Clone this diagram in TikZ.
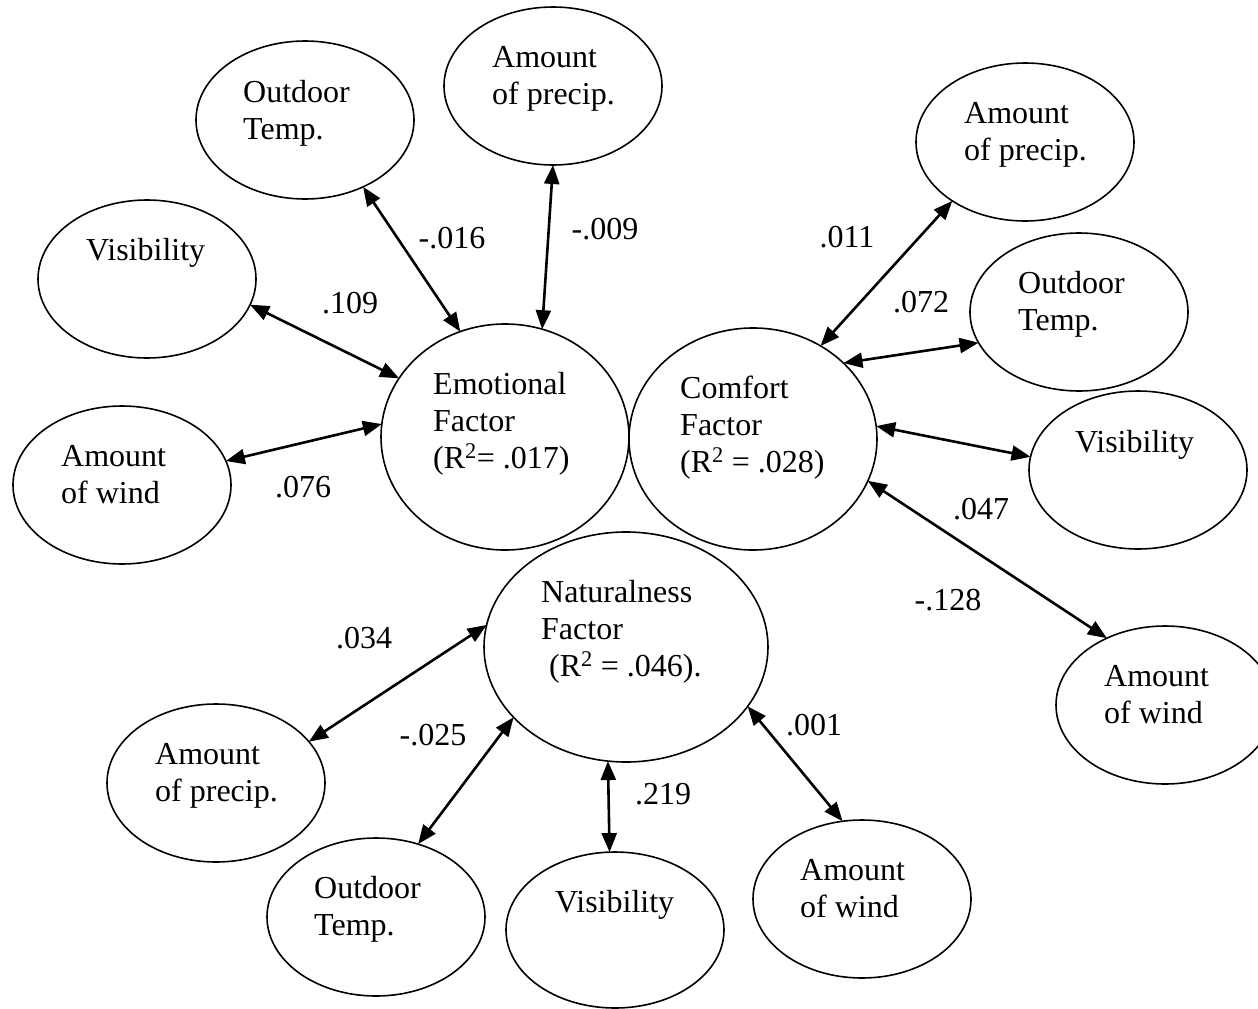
\documentclass[tikz,border=0pt]{standalone}
\usepackage{fontspec}
\setmainfont{Liberation Serif}
\usetikzlibrary{arrows.meta,shapes.geometric}
\begin{document}
\begin{tikzpicture}[x=1pt,y=-1pt,
  ell/.style={draw, ellipse, line width=1.6pt, inner sep=0pt, outer sep=0pt,
              minimum width=218pt, minimum height=158pt},
  txt/.style={anchor=base west, inner sep=0pt, font=\fontsize{32}{37}\selectfont},
  lab/.style={anchor=center, inner sep=0pt, font=\fontsize{32}{37}\selectfont},
  dbl/.style={line width=2.6pt,
              {Triangle[length=19pt,width=15pt]}-{Triangle[length=19pt,width=15pt]}}
]
\clip (0,0) rectangle (1258,1009);
% ellipses
\node[ell] (ot1) at (305,120) {};
\node[ell] (pr1) at (553,86) {};
\node[ell] (vi1) at (147,279) {};
\node[ell] (wi1) at (122,485) {};
\node[ell, minimum width=248pt, minimum height=226pt] (emo) at (505,437) {};
\node[ell, minimum width=248pt, minimum height=222pt] (com) at (753,439) {};
\node[ell] (pr2) at (1025,142) {};
\node[ell] (ot2) at (1079,312) {};
\node[ell] (vi2) at (1138,470) {};
\node[ell] (wi2) at (1165,705) {};
\node[ell, minimum width=284pt, minimum height=230pt] (nat) at (626,647) {};
\node[ell] (pr3) at (216,783) {};
\node[ell] (ot3) at (376,917) {};
\node[ell, minimum height=156pt] (vi3) at (615,930) {};
\node[ell] (wi3) at (862,899) {};
% texts
\newcommand{\tl}[1]{\begin{tabular}[t]{@{}l@{}}#1\end{tabular}}
\node[txt] (ot1t) at (243,102) {\tl{Outdoor\\Temp.}};
\node[txt] (pr1t) at (492,67) {\tl{Amount\\of precip.}};
\node[txt] (vi1t) at (86,260) {\tl{Visibility}};
\node[txt] (wi1t) at (61,466) {\tl{Amount\\of wind}};
\node[txt] (emot) at (433,394) {\tl{Emotional\\Factor\\(R\textsuperscript{2}= .017)}};
\node[txt] (comt) at (680,398) {\tl{Comfort\\Factor\\(R\textsuperscript{2} = .028)}};
\node[txt] (pr2t) at (964,123) {\tl{Amount\\of precip.}};
\node[txt] (ot2t) at (1018,293) {\tl{Outdoor\\Temp.}};
\node[txt] (vi2t) at (1075,452) {\tl{Visibility}};
\node[txt] (wi2t) at (1104,686) {\tl{Amount\\of wind}};
\node[txt] (natt) at (541,602) {\tl{Naturalness\\Factor\\\ (R\textsuperscript{2} = .046).}};
\node[txt] (pr3t) at (155,764) {\tl{Amount\\of precip.}};
\node[txt] (ot3t) at (314,898) {\tl{Outdoor\\Temp.}};
\node[txt] (vi3t) at (555,912) {\tl{Visibility}};
\node[txt] (wi3t) at (800,880) {\tl{Amount\\of wind}};
% connectors
\draw[dbl] (ot1.-49.1) -- (emo.113.8);
\draw[dbl] (pr1.-90) -- (emo.71.3);
\draw[dbl] (vi1.-14.3) -- (emo.151.1);
\draw[dbl] (wi1.13.9) -- (emo.174.9);
\draw[dbl] (pr2.219.4) -- (com.54.9);
\draw[dbl] (ot2.197.8) -- (com.40.2);
\draw[dbl] (vi2.173.2) -- (com.6.4);
\draw[dbl] (wi2.131.4) -- (com.-20.8);
\draw[dbl] (pr3.24.5) -- (nat.171.9);
\draw[dbl] (ot3.60.3) -- (nat.212.2);
\draw[dbl] (vi3.94.4) -- (nat.261.9);
\draw[dbl] (wi3.104.2) -- (nat.-26.4);
% labels
\node[lab] (l1) at (452,238) {-.016};
\node[lab] (l2) at (605,229) {-.009};
\node[lab] (l3) at (350,303) {.109};
\node[lab] (l4) at (303,487) {.076};
\node[lab] (l5) at (847,237) {.011};
\node[lab] (l6) at (921,302) {.072};
\node[lab] (l7) at (981,509) {.047};
\node[lab] (l8) at (948,600) {-.128};
\node[lab] (l9) at (364,638) {.034};
\node[lab] (l10) at (433,735) {-.025};
\node[lab] (l11) at (663,794) {.219};
\node[lab] (l12) at (814,725) {.001};
\end{tikzpicture}
\end{document}
